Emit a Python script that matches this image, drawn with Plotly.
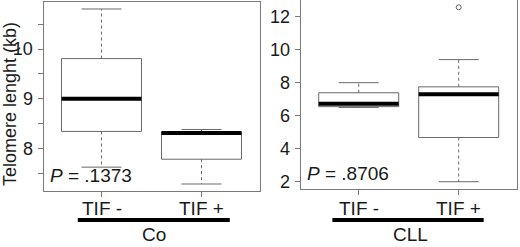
import plotly.graph_objects as go

# ---- data ----
categories = ["TIF -", "TIF +"]
positions = [1, 2]

co_lower = [7.62, 7.28]
co_q1 = [8.34, 7.78]
co_median = [9.00, 8.31]
co_q3 = [9.81, 8.33]
co_upper = [10.81, 8.38]
co_outliers = [[], []]

cll_lower = [6.50, 2.00]
cll_q1 = [6.55, 4.68]
cll_median = [6.73, 7.30]
cll_q3 = [7.39, 7.75]
cll_upper = [8.00, 9.40]
cll_outliers = [[], [12.57]]

co_yticks = [7.5, 8, 8.5, 9, 9.5, 10, 10.5]
co_yticktext = ["", "8", "", "9", "", "10", ""]
cll_yticks = [2, 4, 6, 8, 10, 12]
cll_yticktext = ["2", "4", "6", "8", "10", "12"]

p_values = ["<i>P</i> = .1373", "<i>P</i> = .8706"]
group_labels = ["Co", "CLL"]
y_title = "Telomere lenght (kb)"

FONT = "Liberation Sans, Arial, sans-serif"
W, H = 520, 247
BOXC = "#6a6a6a"
FRAME = "#7a7a7a"
TXT = "#1a1a1a"

fig = go.Figure()


def add_panel(xa, ya, lower, q1, med, q3, upper, outl):
    for i, p in enumerate(positions):
        hw, cw = 0.4, 0.2
        fig.add_trace(go.Scatter(
            x=[p - hw, p + hw, p + hw, p - hw, p - hw],
            y=[q1[i], q1[i], q3[i], q3[i], q1[i]],
            mode="lines", fill="toself", fillcolor="white",
            line=dict(color=BOXC, width=1), xaxis=xa, yaxis=ya,
            showlegend=False, hoverinfo="skip"))
        fig.add_trace(go.Scatter(
            x=[p, p, None, p, p],
            y=[q3[i], upper[i], None, q1[i], lower[i]],
            mode="lines", line=dict(color=BOXC, width=1, dash="dot"),
            xaxis=xa, yaxis=ya, showlegend=False, hoverinfo="skip"))
        fig.add_trace(go.Scatter(
            x=[p - cw, p + cw, None, p - cw, p + cw],
            y=[upper[i], upper[i], None, lower[i], lower[i]],
            mode="lines", line=dict(color=BOXC, width=1),
            xaxis=xa, yaxis=ya, showlegend=False, hoverinfo="skip"))
        fig.add_trace(go.Scatter(
            x=[p - hw, p + hw], y=[med[i], med[i]],
            mode="lines", line=dict(color="black", width=4),
            xaxis=xa, yaxis=ya, showlegend=False, hoverinfo="skip"))
        if outl[i]:
            fig.add_trace(go.Scatter(
                x=[p] * len(outl[i]), y=outl[i], mode="markers",
                marker=dict(symbol="circle-open", size=5, color=BOXC,
                            line=dict(width=1)),
                xaxis=xa, yaxis=ya, showlegend=False, hoverinfo="skip"))


add_panel("x", "y", co_lower, co_q1, co_median, co_q3, co_upper, co_outliers)
add_panel("x2", "y2", cll_lower, cll_q1, cll_median, cll_q3, cll_upper, cll_outliers)


def px_x(a, b):
    return [a / W, b / W]


def px_y(top, bottom):
    return [1 - bottom / H, 1 - top / H]


axis_common = dict(showline=True, mirror=True, linecolor=FRAME, linewidth=1,
                   ticks="outside", ticklen=5, tickcolor=FRAME, showgrid=False,
                   zeroline=False, automargin=False,
                   tickfont=dict(family=FONT, size=18, color=TXT))
xaxis_extra = dict(showticklabels=False)

fig.update_layout(
    template="none",
    width=W, height=H, margin=dict(l=0, r=0, t=0, b=0, pad=0),
    paper_bgcolor="white", plot_bgcolor="white", showlegend=False,
    xaxis=dict(domain=px_x(43.5, 259.5), range=[0.42, 2.58], tickvals=positions,
               anchor="y", **xaxis_extra, **axis_common),
    yaxis=dict(domain=px_y(2, 191), range=[7.139, 10.951], tickvals=co_yticks,
               ticktext=co_yticktext, anchor="x", ticklabelstandoff=1, **axis_common),
    xaxis2=dict(domain=px_x(300.7, 516.7), range=[0.42, 2.58], tickvals=positions,
                anchor="y2", **xaxis_extra, **axis_common),
    yaxis2=dict(domain=px_y(0.3, 188.7), range=[1.577, 12.993], tickvals=cll_yticks,
                ticktext=cll_yticktext, anchor="x2", ticklabelstandoff=1, **axis_common),
)

anns = []
for xr in ["x", "x2"]:
    for p, c in zip(positions, categories):
        anns.append(dict(xref=xr, yref="paper", x=p, y=1 - 208.5 / H, text=c,
                         showarrow=False, xanchor="center", yanchor="middle",
                         font=dict(family=FONT, size=19, color=TXT)))
for xr, yr, pv in [("x", "y", p_values[0]), ("x2", "y2", p_values[1])]:
    anns.append(dict(xref=xr + " domain", yref=yr + " domain", x=0.02, y=0.08,
                     text=pv, showarrow=False, xanchor="left", yanchor="middle",
                     font=dict(family=FONT, size=19, color=TXT)))
for xr, lbl, (l0, l1) in [("x", group_labels[0], (0.763, 2.283)),
                          ("x2", group_labels[1], (0.737, 2.25))]:
    fig.add_shape(type="line", xref=xr, yref="paper", x0=l0, x1=l1,
                  y0=1 - 220 / H, y1=1 - 220 / H, line=dict(color="black", width=4))
    anns.append(dict(xref=xr, yref="paper", x=1.52, y=1 - 234.5 / H, text=lbl,
                     showarrow=False, xanchor="center", yanchor="middle",
                     font=dict(family=FONT, size=19, color=TXT)))
anns.append(dict(xref="paper", yref="paper", x=10 / W, y=1 - 104 / H, text=y_title,
                 textangle=-90, showarrow=False, xanchor="center", yanchor="middle",
                 font=dict(family=FONT, size=18, color=TXT)))
fig.update_layout(annotations=anns)

fig.write_html("out.html", config={"displayModeBar": False},
               post_script="document.body.style.margin='0';document.body.style.overflow='hidden';")
